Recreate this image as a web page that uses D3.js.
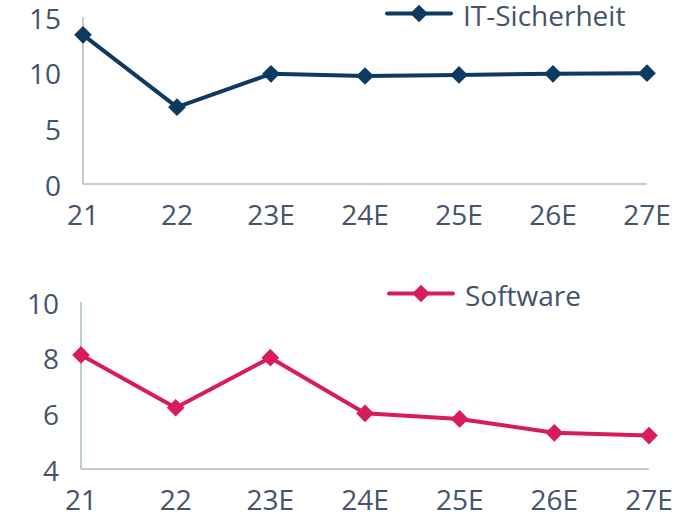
<!DOCTYPE html>
<html>
<head>
<meta charset="utf-8">
<script src="https://cdn.jsdelivr.net/npm/d3@7"></script>
<style>
  body { margin: 0; background: #fff; }
  text { font-family: "Open Sans", sans-serif; fill: #44546a; }
</style>
</head>
<body>
<script>
const width = 694;
const height = 514;

// data
const years = ['21', '22', '23E', '24E', '25E', '26E', '27E'];
const itSicherheit = [13.4, 6.9, 9.9, 9.7, 9.8, 9.9, 9.95];
const software = [8.1, 6.2, 8.0, 6.0, 5.8, 5.3, 5.2];
const ticksTop = [0, 5, 10, 15];
const ticksBottom = [4, 6, 8, 10];

const svg = d3.select('body').append('svg')
  .attr('width', width)
  .attr('height', height);

const diamond = d3.symbol().type(d3.symbolDiamond2).size(200);

function panel(cfg) {
  const g = svg.append('g');

  const x = d3.scalePoint().domain(years).range(cfg.xr);
  const y = d3.scaleLinear().domain(cfg.domain).range(cfg.yr);

  // axis lines
  g.append('line')
    .attr('x1', cfg.xr[0]).attr('x2', cfg.xr[0])
    .attr('y1', cfg.yr[1]).attr('y2', cfg.yr[0])
    .attr('stroke', '#aabdc8').attr('stroke-width', 1.5);
  g.append('line')
    .attr('x1', cfg.xr[0]).attr('x2', cfg.xr[1])
    .attr('y1', cfg.yr[0]).attr('y2', cfg.yr[0])
    .attr('stroke', '#aabdc8').attr('stroke-width', 1.5);

  // y tick labels
  g.selectAll('.yt')
    .data(cfg.ticks)
    .enter().append('text')
    .attr('class', 'yt')
    .attr('x', cfg.xr[0] - 22)
    .attr('y', d => y(d) + 1.5)
    .attr('dy', '0.36em')
    .attr('text-anchor', 'end')
    .style('font-size', '28px')
    .text(d => d);

  // x tick labels
  g.selectAll('.xt')
    .data(years)
    .enter().append('text')
    .attr('class', 'xt')
    .attr('x', d => x(d))
    .attr('y', cfg.xLabelY)
    .attr('text-anchor', 'middle')
    .style('font-size', '28px')
    .text(d => d);

  const line = d3.line()
    .x((d, i) => x(years[i]))
    .y(d => y(d));

  g.append('path')
    .datum(cfg.values)
    .attr('fill', 'none')
    .attr('stroke', cfg.color)
    .attr('stroke-width', 4)
    .attr('stroke-linejoin', 'round')
    .attr('d', line);

  g.selectAll('.pt')
    .data(cfg.values)
    .enter().append('path')
    .attr('class', 'pt')
    .attr('transform', (d, i) => `translate(${x(years[i])},${y(d)})`)
    .attr('fill', cfg.color)
    .attr('d', diamond);

  // legend
  const lg = g.append('g');
  lg.append('line')
    .attr('x1', cfg.leg[0]).attr('x2', cfg.leg[0] + 64)
    .attr('y1', cfg.leg[1]).attr('y2', cfg.leg[1])
    .attr('stroke', cfg.color).attr('stroke-width', 4)
    .attr('stroke-linecap', 'round');
  lg.append('path')
    .attr('transform', `translate(${cfg.leg[0] + 32},${cfg.leg[1]})`)
    .attr('fill', cfg.color)
    .attr('d', diamond);
  lg.append('text')
    .attr('x', cfg.leg[0] + 76)
    .attr('y', cfg.leg[1] + 12.5)
    .style('font-size', '28px')
    .text(cfg.name);
}

panel({
  name: 'IT-Sicherheit', values: itSicherheit, ticks: ticksTop,
  domain: [0, 15], xr: [83, 647], yr: [184, 17], xLabelY: 225,
  color: '#0d3a60', leg: [387, 13.5]
});

panel({
  name: 'Software', values: software, ticks: ticksBottom,
  domain: [4, 10], xr: [81, 649], yr: [469, 302], xLabelY: 510,
  color: '#d81b5d', leg: [389, 293.5]
});
</script>
</body>
</html>
